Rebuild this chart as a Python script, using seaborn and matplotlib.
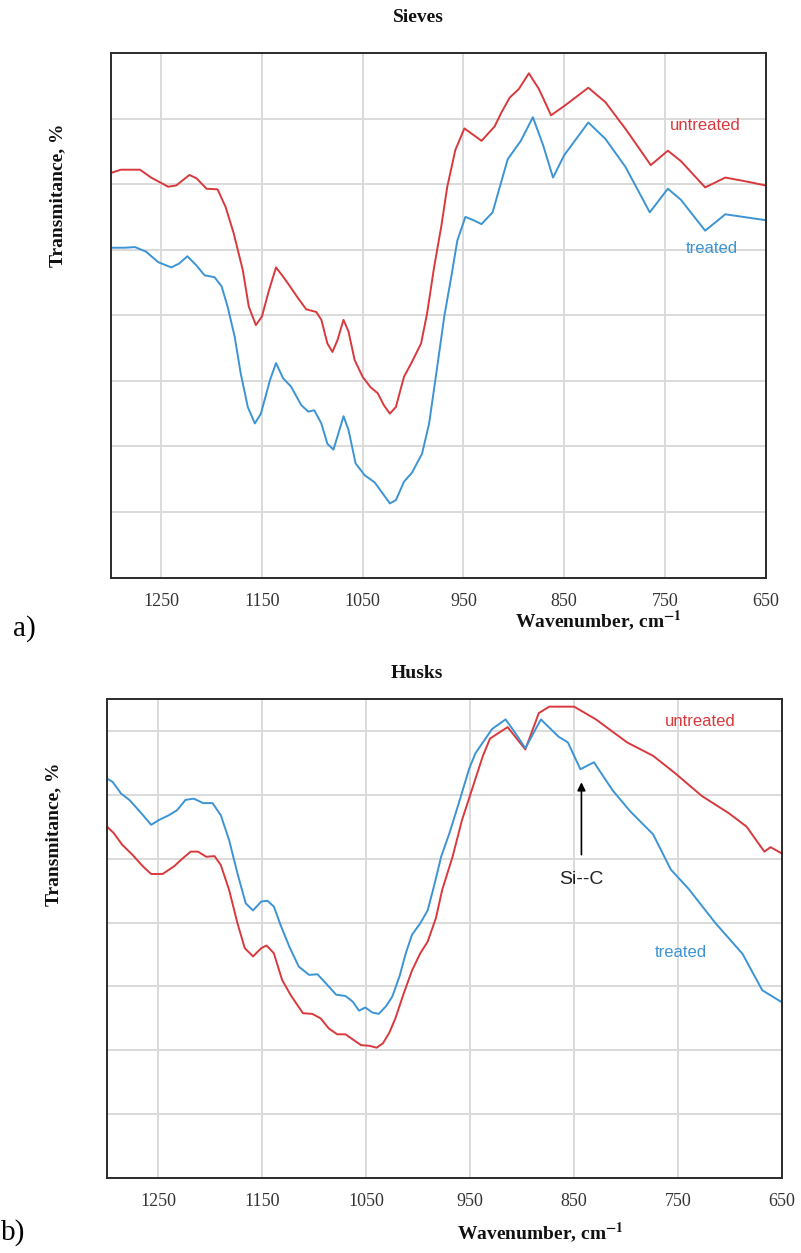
import matplotlib
matplotlib.use("Agg")
import matplotlib.pyplot as plt
import seaborn as sns

# ---------------- data (grid units) ----------------
# a) Sieves
sieves_untr_wn = [1300, 1290, 1271, 1260, 1243, 1235, 1222, 1215, 1205, 1194, 1186, 1178,
                  1169, 1163, 1156, 1150, 1143, 1136, 1129, 1123, 1115, 1106, 1096, 1091,
                  1085, 1080, 1075, 1069, 1064, 1058, 1050, 1042, 1035, 1029, 1023, 1017,
                  1009, 1001, 992, 986, 979, 972, 966, 958, 949, 940, 932, 919, 912, 904,
                  895, 885, 875, 863, 850, 826, 809, 788, 764, 747, 734, 710, 690, 669, 650]
sieves_untr_T = [6.17, 6.22, 6.22, 6.10, 5.96, 5.98, 6.14, 6.09, 5.93, 5.92, 5.65, 5.25,
                 4.69, 4.13, 3.85, 3.98, 4.38, 4.73, 4.59, 4.46, 4.28, 4.09, 4.05, 3.93,
                 3.57, 3.44, 3.62, 3.93, 3.75, 3.32, 3.06, 2.90, 2.81, 2.63, 2.50, 2.60,
                 3.06, 3.29, 3.57, 4.03, 4.74, 5.35, 5.96, 6.52, 6.85, 6.75, 6.66, 6.88,
                 7.10, 7.32, 7.45, 7.69, 7.45, 7.05, 7.19, 7.47, 7.25, 6.82, 6.29, 6.51,
                 6.35, 5.95, 6.10, 6.04, 5.98]

sieves_tr_wn = [1300, 1286, 1276, 1265, 1253, 1240, 1232, 1224, 1215, 1207, 1197, 1190,
                1184, 1177, 1171, 1164, 1157, 1151, 1142, 1136, 1129, 1121, 1111, 1104,
                1098, 1091, 1085, 1079, 1074, 1069, 1064, 1057, 1048, 1038, 1030, 1023,
                1017, 1009, 1001, 991, 984, 976, 969, 962, 956, 948, 940, 932, 921, 906,
                893, 881, 871, 861, 850, 826, 809, 789, 765, 747, 734, 710, 690, 650]
sieves_tr_T = [5.03, 5.03, 5.04, 4.97, 4.81, 4.73, 4.79, 4.90, 4.76, 4.61, 4.58, 4.44,
               4.13, 3.67, 3.11, 2.60, 2.35, 2.50, 3.01, 3.27, 3.04, 2.91, 2.63, 2.53,
               2.55, 2.35, 2.04, 1.95, 2.20, 2.46, 2.25, 1.74, 1.56, 1.45, 1.28, 1.13,
               1.18, 1.46, 1.60, 1.89, 2.35, 3.21, 3.98, 4.59, 5.14, 5.50, 5.45, 5.39,
               5.57, 6.38, 6.66, 7.02, 6.60, 6.10, 6.44, 6.94, 6.69, 6.26, 5.57, 5.93,
               5.76, 5.29, 5.54, 5.45]

# b) Husks
husks_untr_wn = [1300, 1293, 1285, 1275, 1265, 1257, 1246, 1235, 1227, 1219, 1212, 1204,
                 1196, 1190, 1182, 1174, 1167, 1159, 1151, 1146, 1139, 1131, 1123, 1111,
                 1102, 1094, 1086, 1078, 1070, 1063, 1055, 1047, 1040, 1034, 1028, 1022,
                 1014, 1006, 998, 991, 983, 977, 967, 958, 948, 938, 931, 914, 897, 884,
                 874, 850, 829, 799, 774, 753, 727, 701, 684, 667, 661, 650]
husks_untr_T = [5.51, 5.40, 5.22, 5.06, 4.88, 4.76, 4.76, 4.88, 5.00, 5.11, 5.11, 5.03,
                5.04, 4.90, 4.51, 3.99, 3.60, 3.47, 3.60, 3.64, 3.52, 3.10, 2.87, 2.58,
                2.57, 2.50, 2.34, 2.25, 2.25, 2.17, 2.08, 2.07, 2.04, 2.11, 2.27, 2.50,
                2.89, 3.25, 3.52, 3.70, 4.07, 4.51, 5.03, 5.60, 6.10, 6.60, 6.88, 7.06,
                6.71, 7.28, 7.38, 7.38, 7.18, 6.82, 6.61, 6.34, 5.98, 5.71, 5.50, 5.11,
                5.18, 5.08]

husks_tr_wn = [1300, 1294, 1286, 1278, 1268, 1257, 1249, 1240, 1232, 1224, 1216, 1207,
               1198, 1190, 1182, 1174, 1166, 1159, 1151, 1145, 1139, 1132, 1124, 1115,
               1105, 1097, 1089, 1079, 1070, 1063, 1057, 1051, 1044, 1038, 1031, 1025,
               1018, 1012, 1006, 998, 991, 985, 978, 970, 961, 951, 945, 929, 916, 908,
               897, 882, 865, 856, 844, 831, 813, 796, 774, 757, 740, 714, 688, 669, 650]
husks_tr_T = [6.26, 6.20, 6.02, 5.92, 5.74, 5.53, 5.61, 5.68, 5.76, 5.92, 5.94, 5.87,
              5.87, 5.68, 5.29, 4.77, 4.30, 4.19, 4.33, 4.34, 4.25, 3.94, 3.62, 3.31,
              3.18, 3.19, 3.05, 2.87, 2.85, 2.76, 2.62, 2.67, 2.59, 2.57, 2.69, 2.84,
              3.16, 3.52, 3.81, 3.99, 4.19, 4.56, 5.03, 5.40, 5.87, 6.41, 6.65, 7.03,
              7.18, 7.00, 6.73, 7.18, 6.91, 6.82, 6.40, 6.51, 6.07, 5.74, 5.38, 4.83,
              4.53, 3.99, 3.51, 2.94, 2.75]

x_ticks = [1250, 1150, 1050, 950, 850, 750, 650]
x_tick_labels = ["1250", "1150", "1050", "950", "850", "750", "650"]

RED = "#D9393C"
BLUE = "#3C94D4"

# ---------------- style ----------------
sns.set_style("white")
plt.rcParams["font.family"] = ["Liberation Serif", "DejaVu Serif"]
plt.rcParams["mathtext.fontset"] = "stix"

W, H = 801, 1253
fig = plt.figure(figsize=(W / 100, H / 100), dpi=100)


def fx(x):
    return x / W


def fy(y):
    return 1 - y / H


def make_axes(l, t, r, b):
    return fig.add_axes([fx(l), fy(b), fx(r) - fx(l), fy(t) - fy(b)])


ax1 = make_axes(110.8, 53, 765.6, 577.5)
ax2 = make_axes(106.5, 699, 782, 1178)


def plot_panel(ax, wn_u, t_u, wn_t, t_t, ylim, yticks):
    sns.lineplot(x=wn_u, y=t_u, ax=ax, color=RED, lw=1.4, estimator=None)
    sns.lineplot(x=wn_t, y=t_t, ax=ax, color=BLUE, lw=1.4, estimator=None)
    ax.set_xlim(1300, 650)
    ax.set_ylim(*ylim)
    ax.set_xticks(x_ticks)
    ax.set_xticklabels(x_tick_labels, fontsize=13, color="#333333")
    ax.set_yticks(yticks)
    ax.set_yticklabels([])
    ax.tick_params(axis="both", length=0, pad=11)
    ax.grid(True, color="#DADADA", lw=1.4)
    ax.set_axisbelow(True)
    for s in ax.spines.values():
        s.set_color("#2b2b2b")
        s.set_linewidth(1.4)
    ax.set_xlabel("")
    ax.set_ylabel("")


plot_panel(ax1, sieves_untr_wn, sieves_untr_T, sieves_tr_wn, sieves_tr_T,
           (0, 8), [1, 2, 3, 4, 5, 6, 7])
plot_panel(ax2, husks_untr_wn, husks_untr_T, husks_tr_wn, husks_tr_T,
           (0, 7.5), [1, 2, 3, 4, 5, 6, 7])

sans = ["Liberation Sans", "DejaVu Sans"]
ax1.text(710, 6.90, "untreated", color=RED, fontsize=12, family=sans, ha="center", va="center")
ax1.text(703, 5.02, "treated", color=BLUE, fontsize=12, family=sans, ha="center", va="center")
ax2.text(729, 7.14, "untreated", color=RED, fontsize=12, family=sans, ha="center", va="center")
ax2.text(747, 3.53, "treated", color=BLUE, fontsize=12, family=sans, ha="center", va="center")

ax2.annotate("", xy=(843, 6.24), xytext=(843, 5.02),
             arrowprops=dict(arrowstyle="-|>", color="black", lw=1.2, mutation_scale=12))
ax2.text(843, 4.67, "Si--C", color="#222222", fontsize=14, family=sans, ha="center", va="center")

# titles and axis labels
tkw = dict(fontweight="bold", ha="center", va="center", color="#111111")
fig.text(fx(418), fy(18), "Sieves", fontsize=14, **tkw)
fig.text(fx(417), fy(673), "Husks", fontsize=14, **tkw)
fig.text(fx(58), fy(195), "Transmitance, %", fontsize=14, rotation=90, **tkw)
fig.text(fx(54), fy(834), "Transmitance, %", fontsize=14, rotation=90, **tkw)
fig.text(fx(598), fy(621), r"Wavenumber, cm$^{\mathbf{-1}}$", fontsize=14, **tkw)
fig.text(fx(540), fy(1233), r"Wavenumber, cm$^{\mathbf{-1}}$", fontsize=14, **tkw)

fig.text(fx(13), fy(629), "a)", fontsize=21, ha="left", va="center", color="black")
fig.text(fx(1), fy(1233), "b)", fontsize=21, ha="left", va="center", color="black")

fig.savefig("out.png", dpi=100)
